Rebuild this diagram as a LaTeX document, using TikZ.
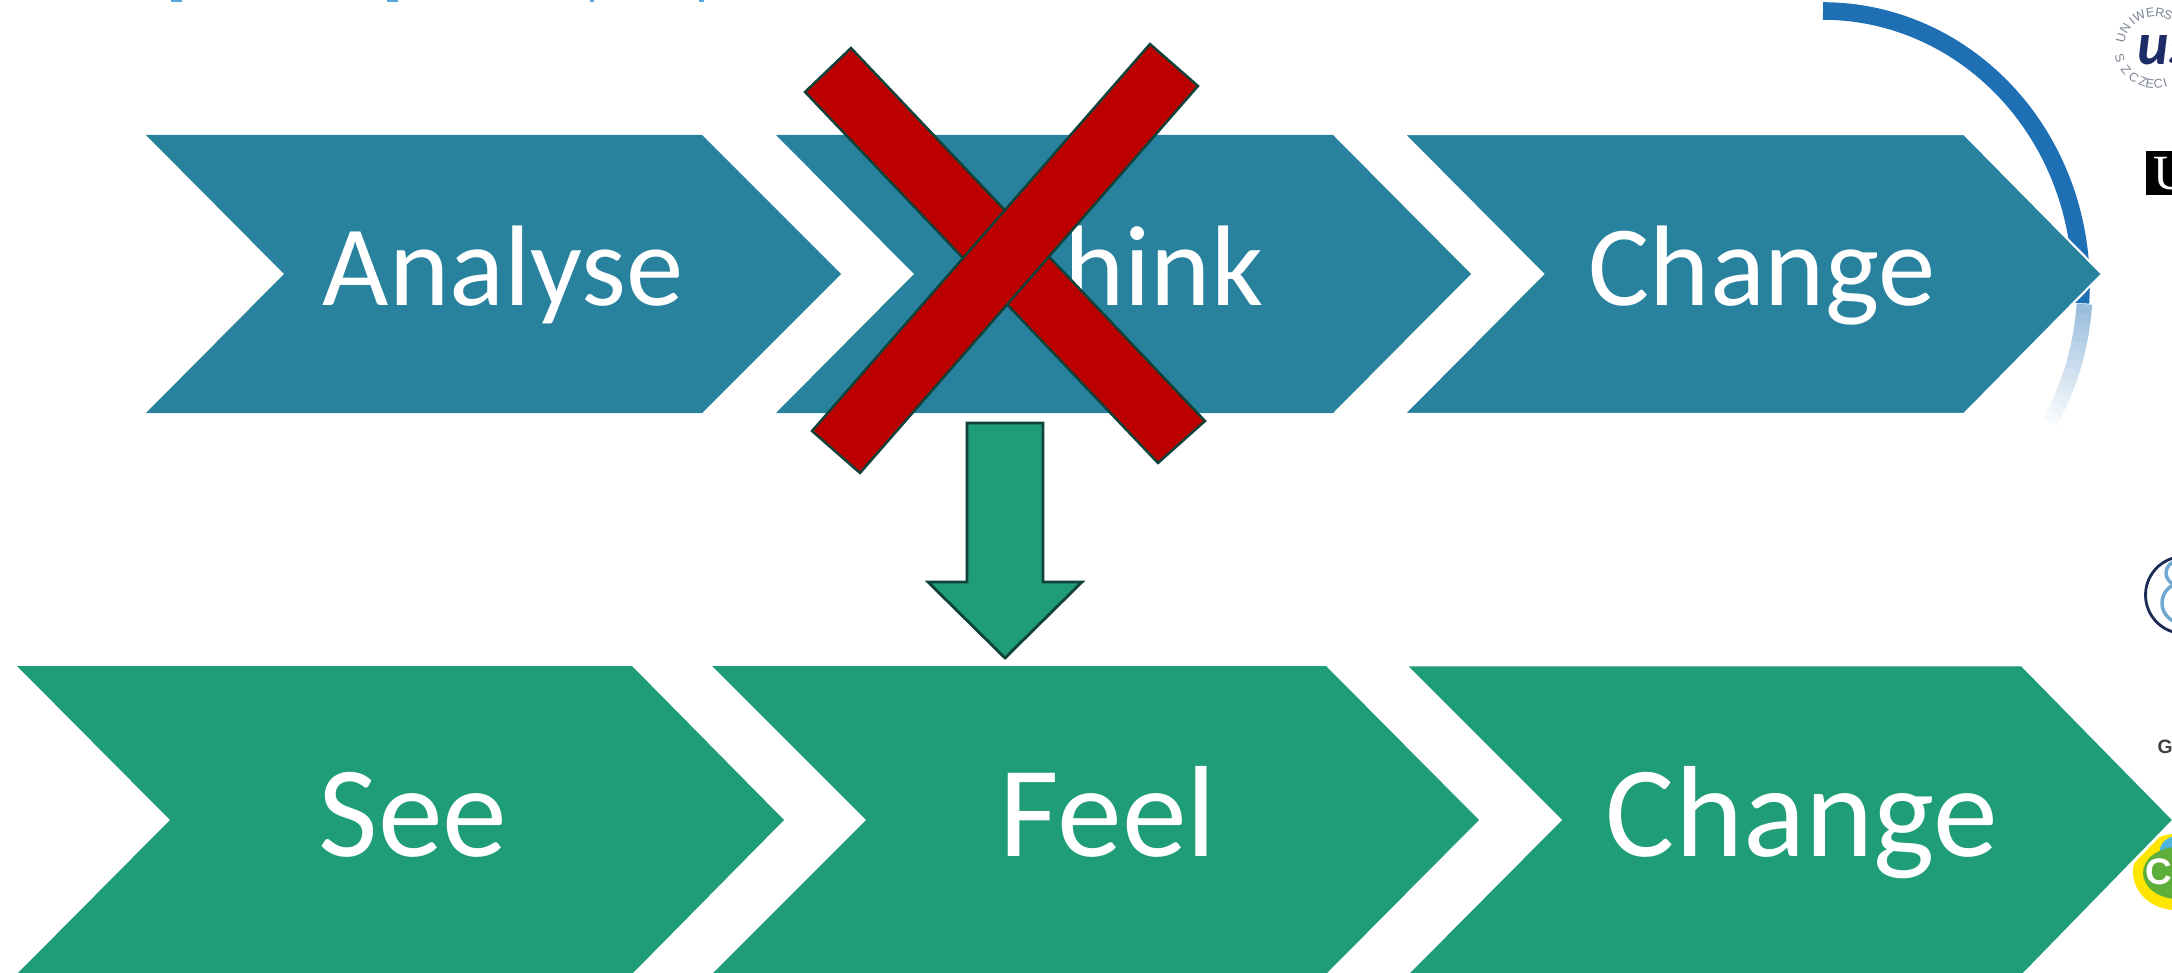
\documentclass[tikz,border=0pt]{standalone}
\usepackage{xcolor}
\usepackage{fontspec}
\setmainfont{Carlito}
\newfontfamily\logofont{Liberation Sans}
\newfontfamily\logoserif{Liberation Serif}

\definecolor{tealchev}{HTML}{28829E}
\definecolor{greenchev}{HTML}{1F9C78}
\definecolor{crossred}{HTML}{BC0000}
\definecolor{darkedge}{HTML}{0F4238}
\definecolor{arcblue}{HTML}{1F6FB5}
\definecolor{tailblue}{HTML}{5AA5DC}
\definecolor{sealgrey}{HTML}{7C8494}
\definecolor{sealnavy}{HTML}{1D2B66}
\definecolor{ringnavy}{HTML}{1B2B55}
\definecolor{ringblue}{HTML}{6FA8D0}
\definecolor{logoyellow}{HTML}{FFE600}
\definecolor{logogreen}{HTML}{5DAE3A}
\definecolor{logosky}{HTML}{4FB4DC}

\begin{document}
\begin{tikzpicture}[
    x=0.01cm,
    y=-0.01cm,
    chevTop/.style={
        fill=tealchev
    },
    chevBottom/.style={
        fill=greenchev
    },
    wordTop/.style={
        anchor=base,
        text=white,
        inner sep=0pt,
        font=\fontsize{32.6}{36}\selectfont
    },
    wordBottom/.style={
        anchor=base,
        text=white,
        inner sep=0pt,
        font=\fontsize{36.9}{40}\selectfont
    },
    crossBar/.style={
        fill=crossred,
        draw=darkedge,
        line width=0.7pt
    },
    downArrow/.style={
        fill=greenchev,
        draw=darkedge,
        line width=0.8pt,
        line join=miter
    },
    sealLetter/.style={
        inner sep=0pt,
        text=sealgrey,
        font=\logofont\fontsize{3.6}{4}\selectfont
    }
]
\useasboundingbox (0,0) rectangle (2172,973);

% Tails of the cut-off title
\fill[tailblue] (171,0) rectangle (182,2);
\fill[tailblue] (387,0) rectangle (398,2);
\fill[tailblue] (590,0) rectangle (594,2);
\fill[tailblue] (699,0) rectangle (704,2);

% Arc behind the last chevron
\draw[arcblue, line width=5pt] (1823,11) arc[start angle=-90, end angle=3.8, x radius=258, y radius=274];
\foreach \a [evaluate=\a as \pct using {45*(30-\a)/26}] in {4,6,...,30} {
    \draw[arcblue!\pct!white, line width=4.4pt] (1823,285) ++(\a:262 and 274) arc[start angle=\a, end angle=\a+2.4, x radius=262, y radius=274];
}

% Logos cut by the right edge
\foreach \letter/\a in {U/195, N/212, I/229, W/243, E/262, R/278, S/292} {
    \node[sealLetter, rotate=270-\a] (seal\letter\a) at ([shift={(\a:35)}]2155,47) {\letter};
}
\foreach \letter/\a in {S/162, Z/142, C/125, Z/109, E/98, C/85, I/74} {
    \node[sealLetter, rotate=90-\a] (seal\letter\a) at ([shift={(\a:37)}]2155,47) {\letter};
}
\node[anchor=west, inner sep=0pt, text=sealnavy, font=\fontsize{17}{17}\selectfont\itshape\bfseries] (sealName) at (2137,50) {us};
\fill[black] (2146,151) rectangle (2172,195);
\node[anchor=west, inner sep=0pt, text=white, font=\logoserif\fontsize{14}{14}\selectfont] (blackLogo) at (2153,174) {U};
\draw[ringnavy, line width=0.8pt] (2184,595) circle[radius=38.5];
\draw[ringblue, line width=1pt] (2178,573) circle[radius=12];
\draw[ringblue, line width=1pt] (2182,603) circle[radius=20];
\node[anchor=west, inner sep=0pt, text=black!75, font=\logofont\bfseries\fontsize{5.5}{6}\selectfont] (greyLogo) at (2157,747) {GI};
\fill[logoyellow] (2176,872) ellipse[x radius=43, y radius=38];
\fill[logosky] (2182,850) ellipse[x radius=22, y radius=15];
\fill[logogreen] (2178,873) ellipse[x radius=35, y radius=26];
\node[anchor=west, inner sep=0pt, text=white, font=\logofont\bfseries\fontsize{10.5}{11}\selectfont] (greenLogo) at (2145,872) {CA};

% Top row
\fill[chevTop] (146,135) -- (284,274) -- (146,413) -- (702,413) -- (841,274) -- (702,135) -- cycle;
\fill[chevTop] (776,135) -- (914,274) -- (776,413) -- (1333,413) -- (1471,274) -- (1333,135) -- cycle;
\filldraw[chevTop, draw=white, line width=0.6pt] (1404,134) -- (1543,274) -- (1404,414) -- (1964,414) -- (2102,274) -- (1964,134) -- cycle;
\node[wordTop] (analyse) at (503,306) {Analyse};
\node[wordTop] (think) at (1136,306) {Think};
\node[wordTop] (changeTop) at (1762,306) {Change};

% Bottom row
\fill[chevBottom] (17,666) -- (170,820) -- (17,974) -- (632,974) -- (784,820) -- (632,666) -- cycle;
\fill[chevBottom] (712,666) -- (866,820) -- (712,974) -- (1326,974) -- (1479,820) -- (1326,666) -- cycle;
\filldraw[chevBottom, draw=white, line width=0.8pt] (1405,665) -- (1560,820) -- (1405,976) -- (2022,976) -- (2174,820) -- (2022,665) -- cycle;
\node[wordBottom] (see) at (413,856) {See};
\node[wordBottom] (feel) at (1108,856) {Feel};
\node[wordBottom] (changeBottom) at (1802,856) {Change};

% Cross over the second word
\draw[crossBar] (851,48) -- (805,92) -- (1158,463) -- (1205,421) -- cycle;
\draw[crossBar] (1150,44) -- (1198,86) -- (860,473) -- (812,431) -- cycle;

% Arrow down
\draw[downArrow] (967,423) -- (1043,423) -- (1043,582) -- (1082,582) -- (1005,658) -- (928,582) -- (967,582) -- cycle;
\end{tikzpicture}
\end{document}
